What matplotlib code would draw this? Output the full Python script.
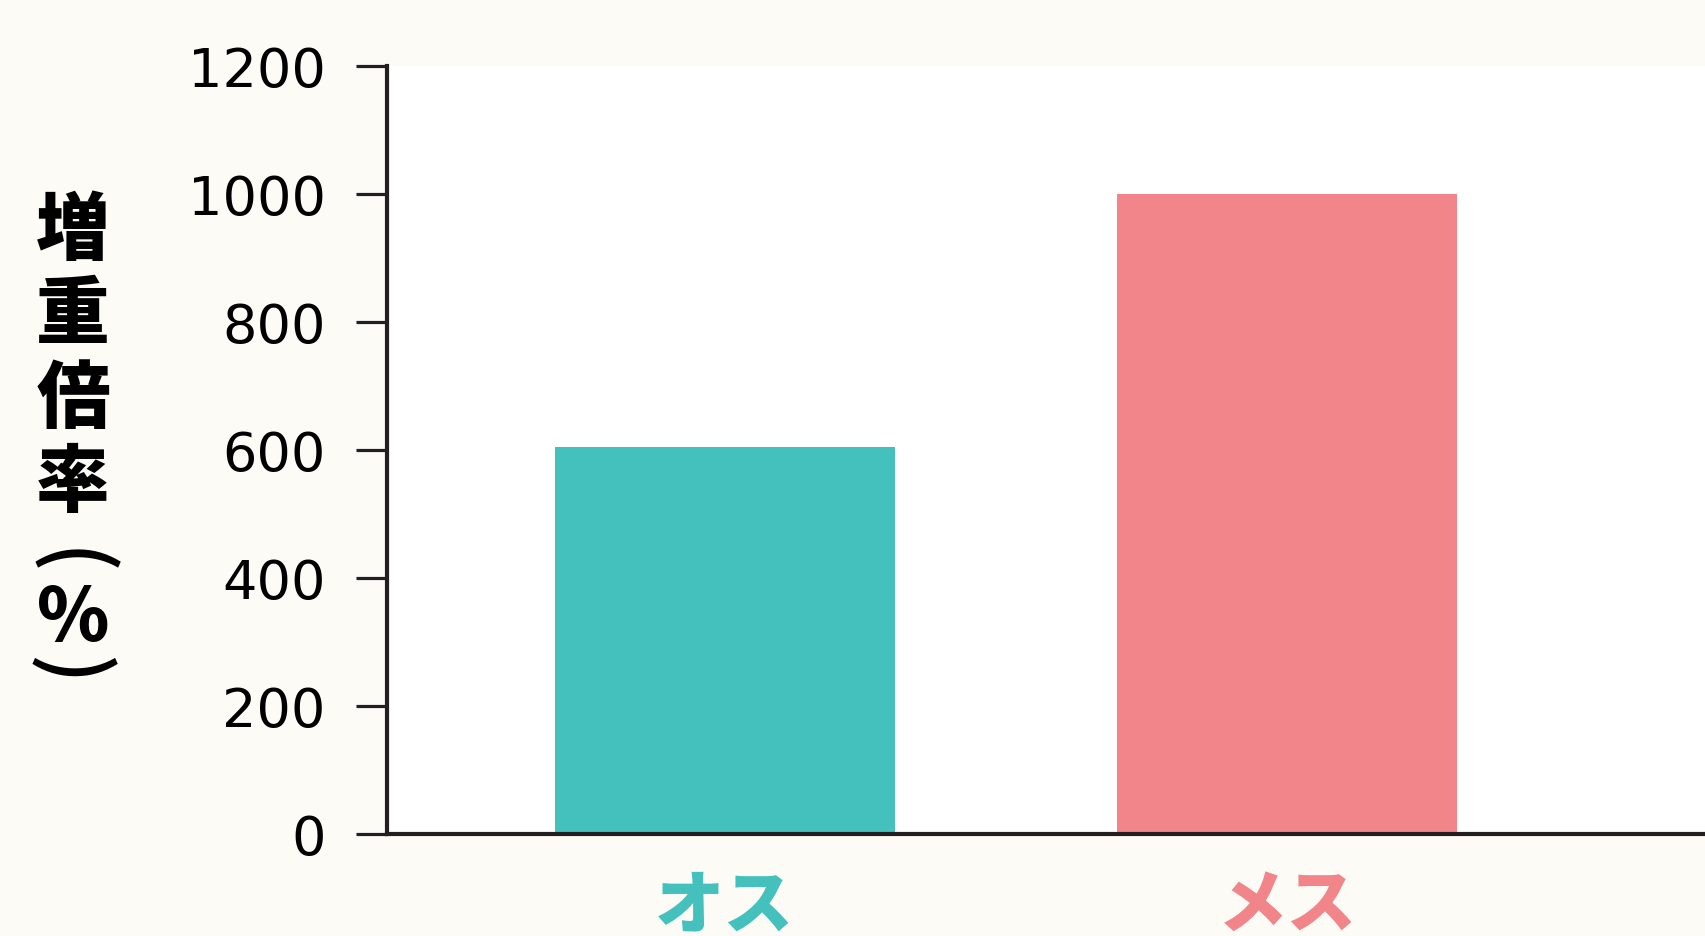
import matplotlib.pyplot as plt

# -----------------------------
# Data
# -----------------------------
categories = ["オス", "メス"]
values = [605, 1000]
bar_colors = ["#44C1BD", "#F2858A"]
y_ticks = [0, 200, 400, 600, 800, 1000, 1200]
ylabel_chars = ["増", "重", "倍", "率", "(", "%", ")"]

BG = "#FCFBF6"
INK = "#231F20"

plt.rcParams["font.family"] = ["DejaVu Sans", "Noto Sans CJK JP"]

# -----------------------------
# Figure
# -----------------------------
fig = plt.figure(figsize=(17.06, 9.37), dpi=100, facecolor=BG)
ax = fig.add_axes([0.2268, 0.1089, 0.7732, 0.8196])
ax.set_facecolor("white")

x = list(range(len(categories)))
ax.bar(x, values, width=0.605, color=bar_colors, zorder=2)

ax.set_xlim(-0.601, 1.745)
ax.set_ylim(0, 1200)
ax.set_yticks(y_ticks)
ax.set_yticklabels([str(v) for v in y_ticks], fontsize=39, color="black")
ax.tick_params(axis="y", length=22, width=2.3, color=INK, pad=22)

ax.set_xticks(x)
ax.set_xticklabels(categories, fontsize=50, fontweight="black",
                   family=["Noto Sans CJK JP"])
for lbl, c in zip(ax.get_xticklabels(), bar_colors):
    lbl.set_color(c)
ax.tick_params(axis="x", length=0, pad=26)

for s in ["top", "right"]:
    ax.spines[s].set_visible(False)
for s in ["left", "bottom"]:
    ax.spines[s].set_linewidth(3)
    ax.spines[s].set_color(INK)

# stacked vertical y label (parentheses turned for vertical writing)
label_y = [232, 316, 400, 484, 563, 619, 671]
label_x = [73, 73, 73, 73, 67, 73, 67]
label_rot = [0, 0, 0, 0, -90, 0, -90]
label_size = [53, 53, 53, 53, 60, 53, 60]
label_weight = ["black", "black", "black", "black", "medium", "black", "medium"]
for ch, px, py, rot, fs, fw in zip(ylabel_chars, label_x, label_y, label_rot,
                                   label_size, label_weight):
    fig.text(px / 1706, 1 - py / 937, ch, fontsize=fs, fontweight=fw,
             family=["Noto Sans CJK JP", "DejaVu Sans"], rotation=rot,
             ha="center", va="center", color="black")

fig.savefig("out.png", dpi=100, facecolor=BG)
